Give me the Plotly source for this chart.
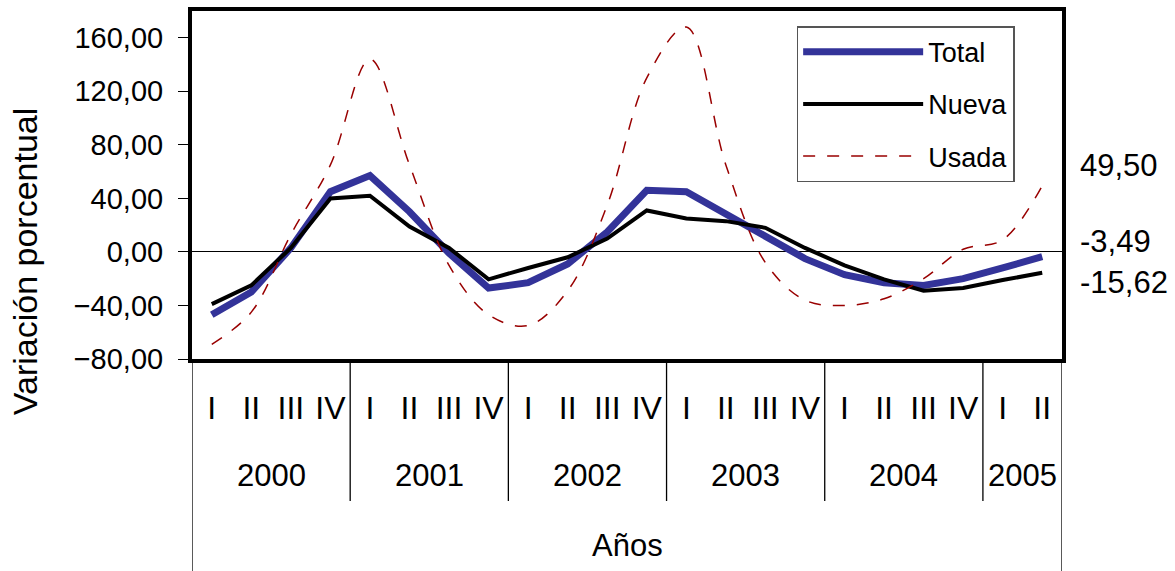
import plotly.graph_objects as go

# Quarterly periods, 2000 I to 2005 II
years = ["2000", "2001", "2002", "2003", "2004", "2005"]
quarters_per_year = [["I", "II", "III", "IV"]] * 5 + [["I", "II"]]

# Percentage change by quarter
total = [-47, -30, 3, 45, 57, 30, -1, -27, -23, -9, 15, 46, 45, 28, 12, -5, -17, -23, -25, -20, -12, -3.49]
nueva = [-39, -25, 3, 40, 42, 19, 3, -20.5, -12, -4, 10, 31, 25, 23, 18, 3, -10, -20.5, -29, -27, -21, -15.62]
usada = [-69, -45, 13, 65, 144, 65, -10, -47, -55, -29, 35, 130, 168, 65, -8, -36, -40, -35, -20, 2, 9, 49.5]

y_ticks = [-80, -40, 0, 40, 80, 120, 160]

quarter_labels = [q for qs in quarters_per_year for q in qs]
x = list(range(len(quarter_labels)))

FONT = "Liberation Sans, Arial, sans-serif"

fig = go.Figure()
fig.add_trace(go.Scatter(x=x, y=total, name="Total", mode="lines",
                         line=dict(color="#333399", width=7), legendgroup="a"))
fig.add_trace(go.Scatter(x=x, y=nueva, name="Nueva", mode="lines",
                         line=dict(color="black", width=4), legendgroup="b"))
fig.add_trace(go.Scatter(x=x, y=usada, name="Usada", mode="lines",
                         line=dict(color="#990000", width=1.5, dash="12px,12px",
                                   shape="spline", smoothing=1.0),
                         legendgroup="c"))

# year labels and dividers under the axis
shapes = []
annotations = []
start = 0
n_total = len(quarter_labels)
for yr, qs in zip(years, quarters_per_year):
    n = len(qs)
    annotations.append(dict(x=start + (n - 1) / 2, y=-0.335, xref="x", yref="paper",
                            text=yr, showarrow=False, yanchor="middle",
                            font=dict(size=31, family=FONT, color="black")))
    start += n
    if start < n_total:
        shapes.append(dict(type="line", xref="x", yref="paper", x0=start - 0.5, x1=start - 0.5,
                           y0=0, y1=-0.408, line=dict(color="black", width=1.3)))
for edge in (-0.5, n_total - 0.5):
    shapes.append(dict(type="line", xref="x", yref="paper", x0=edge, x1=edge,
                       y0=0, y1=-0.62, line=dict(color="black", width=1.3)))

annotations.append(dict(x=0.5, y=-0.536, xref="paper", yref="paper", text="Años",
                        showarrow=False, yanchor="middle",
                        font=dict(size=31, family=FONT, color="black")))
annotations.append(dict(x=-0.192, y=0.281, xref="paper", yref="paper",
                        text="Variación porcentual", textangle=-90, showarrow=False,
                        xanchor="center", yanchor="middle",
                        font=dict(size=34, family=FONT, color="black")))

# last-period values at the right edge
def fmt(v):
    return f"{v:.2f}".replace(".", ",")

for series, shift in ((usada, 20), (total, 15), (nueva, -10)):
    annotations.append(dict(x=1.0184, xref="paper", y=series[-1], yref="y",
                            text=fmt(series[-1]), showarrow=False, xanchor="left",
                            yanchor="middle", yshift=shift,
                            font=dict(size=31, family=FONT, color="black")))

fig.update_layout(
    width=1175, height=571,
    margin=dict(l=192, r=113, t=7, b=212),
    paper_bgcolor="white", plot_bgcolor="white",
    separators=",.",
    font=dict(family=FONT, color="black"),
    shapes=shapes, annotations=annotations,
    legend=dict(x=0.695, y=0.956, xanchor="left", yanchor="top",
                bordercolor="#555555", borderwidth=1.5, bgcolor="white",
                font=dict(size=27, family=FONT, color="black"),
                itemwidth=120, tracegroupgap=14),
)
fig.update_xaxes(range=[-0.5, n_total - 0.5], tickvals=x, ticktext=quarter_labels,
                 ticks="", showgrid=False, zeroline=False,
                 showline=True, linewidth=4, linecolor="black", mirror=True,
                 tickfont=dict(size=32, family=FONT, color="black"),
                 ticklabelstandoff=18)
fig.update_yaxes(range=[-80, 180], tickvals=y_ticks, tickformat=".2f",
                 ticks="outside", ticklen=10, tickcolor="black", tickwidth=1.3,
                 showgrid=False, zeroline=True, zerolinecolor="black", zerolinewidth=1.3,
                 showline=True, linewidth=4, linecolor="black", mirror=True,
                 tickfont=dict(size=29, family=FONT, color="black"),
                 ticklabelstandoff=9)

fig.write_html("out.html")
